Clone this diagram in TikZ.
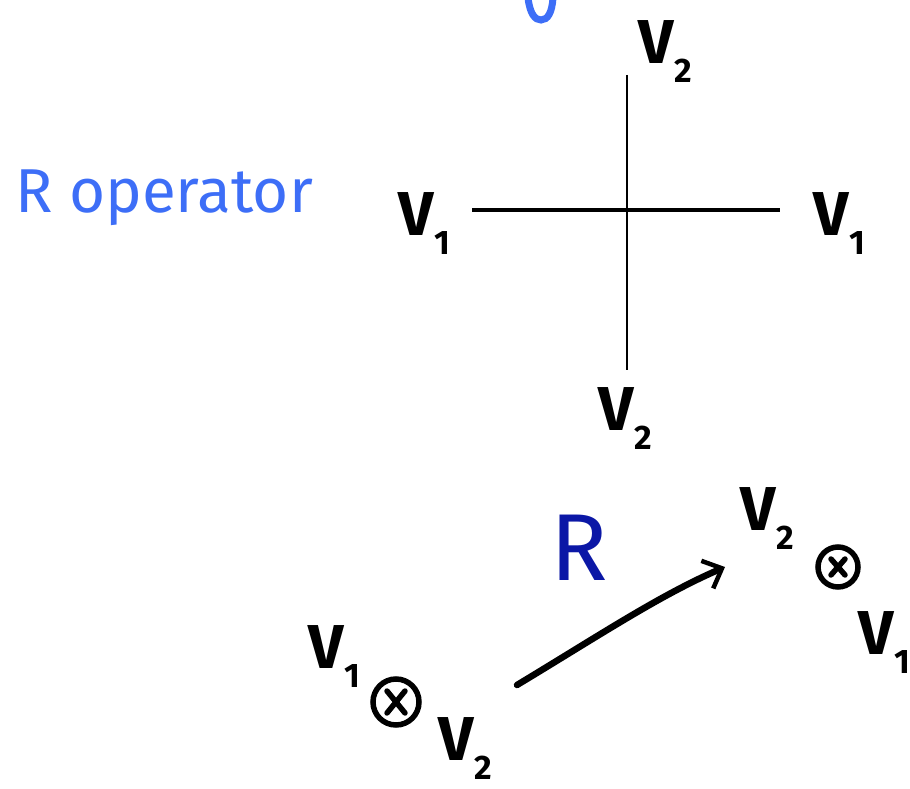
\documentclass[tikz,border=0pt]{standalone}
\usepackage{fontspec}
\setmainfont{Fira Sans}
\usetikzlibrary{arrows.meta}
\definecolor{lblue}{HTML}{3D6EF7}
\definecolor{dblue}{HTML}{0B17A6}
\newcommand{\Vsub}[1]{V\kern1pt\raisebox{-19pt}{\fontsize{34}{34}\selectfont #1}}
\begin{document}
\begin{tikzpicture}[x=1pt,y=-1pt,
  vlab/.style={font=\fontsize{62}{62}\selectfont\bfseries, inner sep=0pt, anchor=base west},
  otimes/.style={draw, circle, line width=5.5pt, minimum size=46pt, inner sep=0pt},
  hand/.style={line width=5.5pt, line cap=round}]
\useasboundingbox (0,0) rectangle (910,789);
% top cut-off fragment
\draw[lblue, line width=7pt, line cap=round] (528,-2) .. controls (530,14) and (535,20) .. (541,20) .. controls (548,20) and (552,12) .. (553,-2);
% R operator label
\node[font=\fontsize{62}{62}\selectfont, text=lblue, inner sep=0pt, anchor=base west] (rop) at (15,212) {R operator};
% cross
\coordinate (hl) at (472,210);
\coordinate (hr) at (780,210);
\coordinate (vt) at (627,75);
\coordinate (vb) at (627,370);
\draw[line width=3.5pt] (hl) -- (hr);
\draw[line width=1.6pt] (vt) -- (vb);
\node[vlab] (top) at (638,64) {\Vsub{2}};
\node[vlab] (left) at (398,235) {\Vsub{1}};
\node[vlab] (right) at (813,235) {\Vsub{1}};
\node[vlab] (bot) at (598,430) {\Vsub{2}};
% bottom part
\node[font=\fontsize{95}{95}\selectfont, text=dblue, inner sep=0pt, anchor=base west] (R) at (550,580) {R};
\node[vlab] (l1) at (308,668) {\Vsub{1}};
\node[otimes] (lx) at (396,702) {};
\draw[hand] ([shift={(-9,-11)}]lx.center) -- ([shift={(9,11)}]lx.center);
\draw[hand] ([shift={(9,-11)}]lx.center) -- ([shift={(-9,11)}]lx.center);
\node[vlab] (l2) at (438,760) {\Vsub{2}};
\node[vlab] (r2) at (740,530) {\Vsub{2}};
\node[otimes, minimum size=40pt] (rx) at (838,567) {};
\draw[hand] ([shift={(-7,-8)}]rx.center) -- ([shift={(7,8)}]rx.center);
\draw[hand] ([shift={(7,-8)}]rx.center) -- ([shift={(-7,8)}]rx.center);
\node[vlab] (r1) at (858,654) {\Vsub{1}};
\coordinate (as) at (517,685);
\coordinate (ae) at (725,567);
\draw[line width=6.5pt, line cap=round, -{Straight Barb[length=16pt, width=30pt, line width=4.5pt]}] (as) .. controls (600,635) and (660,595) .. (ae);
\end{tikzpicture}
\end{document}
